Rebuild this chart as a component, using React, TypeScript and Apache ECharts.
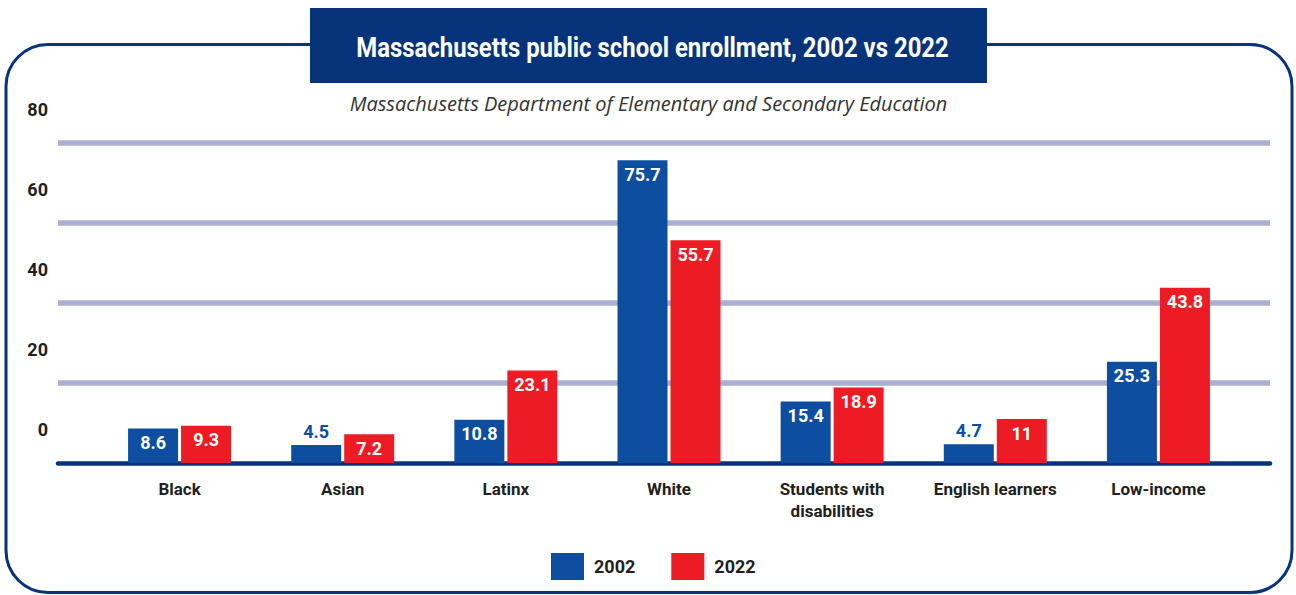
import React, { useEffect, useRef } from "react";
import * as echarts from "echarts";

const categories = [
  "Black",
  "Asian",
  "Latinx",
  "White",
  "Students with\ndisabilities",
  "English learners",
  "Low-income",
];
const enrollment2002 = [8.6, 4.5, 10.8, 75.7, 15.4, 4.7, 25.3];
const enrollment2022 = [9.3, 7.2, 23.1, 55.7, 18.9, 11, 43.8];
const seriesNames = ["2002", "2022"];
const yTicks = [0, 20, 40, 60, 80];

const BLUE = "#0d4ea1";
const RED = "#ed1c24";
const NAVY = "#07337a";
const GRID = "#aab0d1";
const COND = "Roboto, sans-serif";

function buildData(values: number[]) {
  return values.map((v) => {
    if (v < 6) {
      return {
        value: v,
        label: { position: "top", color: BLUE, distance: 5 },
      };
    }
    return { value: v };
  });
}

export default function App() {
  const ref = useRef<HTMLDivElement>(null);
  useEffect(() => {
    if (!ref.current) return;
    const chart = echarts.init(ref.current, null, { renderer: "svg" });
    const labelStyle = {
      show: true,
      position: "insideTop",
      distance: 5,
      color: "#fff",
      fontFamily: COND,
      fontWeight: "bold",
      fontSize: 18,
    };
    chart.setOption({
      animation: false,
      backgroundColor: "#fff",
      grid: [
        { left: 98, right: 56, top: 143, bottom: 132 },
        { left: 58, right: 26, top: 143, bottom: 132 },
      ],
      xAxis: [
        {
          type: "category",
          gridIndex: 0,
          data: categories,
          axisLine: { show: false },
          axisTick: { show: false },
          axisLabel: {
            margin: 15,
            color: "#231f20",
            fontFamily: COND,
            fontWeight: "bold",
            fontSize: 17,
            lineHeight: 22,
            interval: 0,
          },
        },
        {
          type: "value",
          gridIndex: 1,
          min: 0,
          max: 1,
          offset: 2,
          axisLine: { show: true, lineStyle: { color: NAVY, width: 4.5 } },
          axisTick: { show: false },
          axisLabel: { show: false },
          splitLine: { show: false },
        },
      ],
      yAxis: [
        {
          type: "value",
          gridIndex: 0,
          min: yTicks[0],
          max: yTicks[yTicks.length - 1],
          interval: 20,
          axisLine: { show: false },
          axisTick: { show: false },
          axisLabel: { show: false },
          splitLine: { show: false },
        },
        {
          type: "value",
          gridIndex: 1,
          min: yTicks[0],
          max: yTicks[yTicks.length - 1],
          interval: 20,
          axisLine: { show: false },
          axisTick: { show: false },
          axisLabel: {
            margin: 10,
            color: "#231f20",
            fontFamily: COND,
            fontWeight: "bold",
            fontSize: 18,
            lineHeight: 18,
            verticalAlign: "bottom",
            padding: [0, 0, 25, 0],
          },
          splitLine: {
            show: true,
            showMinLine: false,
            lineStyle: { color: GRID, width: 5.5 },
          },
        },
      ],
      legend: {
        left: 551,
        top: 553,
        padding: 0,
        icon: "rect",
        itemWidth: 33,
        itemHeight: 27,
        itemGap: 36,
        data: seriesNames,
        textStyle: {
          color: "#231f20",
          fontFamily: COND,
          fontWeight: "bold",
          fontSize: 18,
          padding: [0, 0, 0, 5],
        },
      },
      series: [
        {
          name: seriesNames[0],
          type: "bar",
          xAxisIndex: 0,
          yAxisIndex: 0,
          barWidth: 50,
          barGap: "6%",
          itemStyle: { color: BLUE },
          label: labelStyle,
          data: buildData(enrollment2002),
          z: 3,
        },
        {
          name: seriesNames[1],
          type: "bar",
          xAxisIndex: 0,
          yAxisIndex: 0,
          barWidth: 50,
          barGap: "6%",
          itemStyle: { color: RED },
          label: labelStyle,
          data: buildData(enrollment2022),
          z: 3,
        },
      ],
      graphic: [
        {
          type: "rect",
          z: 1,
          shape: { x: 6, y: 44.5, width: 1286, height: 548, r: 42 },
          style: { fill: "none", stroke: NAVY, lineWidth: 3 },
        },
        {
          type: "rect",
          z: 5,
          shape: { x: 310, y: 8, width: 677, height: 75 },
          style: { fill: NAVY },
        },
        {
          type: "text",
          z: 6,
          x: 652.5,
          y: 47,
          scaleX: 0.886,
          style: {
            text: "Massachusetts public school enrollment, 2002 vs 2022",
            fill: "#fff",
            fontFamily: COND,
            fontWeight: "bold",
            fontSize: 27,
            align: "center",
            verticalAlign: "middle",
          },
        },
        {
          type: "text",
          z: 6,
          x: 648.5,
          y: 103,
          style: {
            text: "Massachusetts Department of Elementary and Secondary Education",
            fill: "#333",
            fontFamily: '"Open Sans", "Noto Sans", sans-serif',
            fontStyle: "italic",
            fontSize: 20,
            align: "center",
            verticalAlign: "middle",
          },
        },
      ],
    });
    return () => chart.dispose();
  }, []);
  return (
    <div
      ref={ref}
      style={{ position: "fixed", left: 0, top: 0, width: 1296, height: 595 }}
    />
  );
}
